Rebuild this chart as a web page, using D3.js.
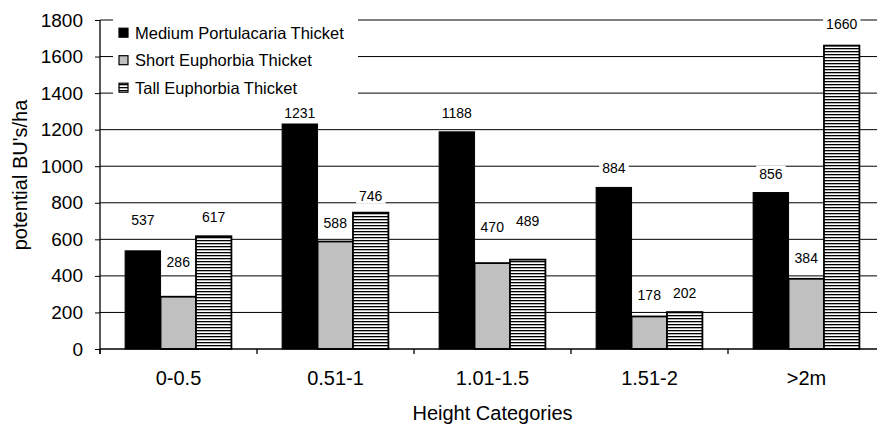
<!DOCTYPE html>
<html>
<head>
<meta charset="utf-8">
<script src="https://cdn.jsdelivr.net/npm/d3@7/dist/d3.min.js"></script>
<style>
  html, body { margin: 0; padding: 0; background: #fff; }
  svg { display: block; font-family: "Liberation Sans", Arial, sans-serif; }
</style>
</head>
<body>
<svg id="chart" width="877" height="425"></svg>
<script>
// Height classes on the x axis
const categories = ["0-0.5", "0.51-1", "1.01-1.5", "1.51-2", ">2m"];
// Thicket types, one bar each per height class
const seriesNames = ["Medium Portulacaria Thicket", "Short Euphorbia Thicket", "Tall Euphorbia Thicket"];
// Potential browser units per hectare
const mediumPortulacaria = [537, 1231, 1188, 884, 856];
const shortEuphorbia     = [286, 588, 470, 178, 384];
const tallEuphorbia      = [617, 746, 489, 202, 1660];
const yTicks = [0, 200, 400, 600, 800, 1000, 1200, 1400, 1600, 1800];
// Extra lift (px) of each value label above its bar, per series then category
const labelLift = [
  [12, -8, 0, 0, 0],
  [16, 0, 17, 2, 2],
  [0, -2, 20, 0, 3]
];

const seriesValues = [mediumPortulacaria, shortEuphorbia, tallEuphorbia];

const svg = d3.select("#chart");
const plotLeft = 100, plotRight = 885, plotTop = 20, plotBottom = 349;

const x0 = d3.scaleBand().domain(categories).range([plotLeft, plotRight]).padding(0);
const x1 = d3.scaleBand().domain(d3.range(seriesNames.length))
  .range([x0.bandwidth() * 0.16, x0.bandwidth() * 0.837]).padding(0);
const y = d3.scaleLinear().domain([0, 1800]).range([plotBottom, plotTop]);

// Hatch pattern for the tall thicket bars
const defs = svg.append("defs");
const pat = defs.append("pattern").attr("id", "hatch")
  .attr("patternUnits", "userSpaceOnUse").attr("width", 8).attr("height", 3);
pat.append("rect").attr("width", 8).attr("height", 3).attr("fill", "#fff");
pat.append("rect").attr("y", 0).attr("width", 8).attr("height", 1.3).attr("fill", "#000");

const fills = ["#000", "#c0c0c0", "url(#hatch)"];

// Gridlines
svg.append("g").selectAll("line").data(yTicks.filter(d => d > 0)).join("line")
  .attr("x1", plotLeft).attr("x2", plotRight)
  .attr("y1", d => y(d)).attr("y2", d => y(d))
  .attr("stroke", "#000").attr("stroke-width", 1);

// Y axis
const yAxis = d3.axisLeft(y).tickValues(yTicks).tickFormat(d3.format("d"))
  .tickSize(5).tickPadding(12);
const gy = svg.append("g").attr("transform", `translate(${plotLeft},0)`).call(yAxis);
gy.select(".domain").remove();
gy.selectAll(".tick line").attr("stroke", "#000");
gy.selectAll(".tick text").attr("font-size", 19).attr("fill", "#000")
  .attr("font-family", "Liberation Sans, Arial, sans-serif");
svg.append("line").attr("x1", plotLeft).attr("x2", plotLeft).attr("y1", plotTop).attr("y2", plotBottom + 5)
  .attr("stroke", "#000").attr("stroke-width", 1.3);

// Bars
const groups = svg.append("g").selectAll("g").data(categories).join("g")
  .attr("transform", d => `translate(${x0(d)},0)`);
groups.selectAll("rect").data((c, ci) => seriesValues.map((vals, si) => ({ si, ci, v: vals[ci] })))
  .join("rect")
  .attr("x", d => x1(d.si))
  .attr("width", x1.bandwidth())
  .attr("y", d => y(d.v))
  .attr("height", d => y(0) - y(d.v))
  .attr("fill", d => fills[d.si])
  .attr("stroke", "#000")
  .attr("stroke-width", d => d.si === 0 ? 1 : 1.8);

// X axis
svg.append("line").attr("x1", plotLeft).attr("x2", plotRight).attr("y1", plotBottom).attr("y2", plotBottom)
  .attr("stroke", "#000").attr("stroke-width", 1.3);
const catEdges = categories.map(c => x0(c)).concat([plotRight]);
svg.append("g").selectAll("line").data(catEdges).join("line")
  .attr("x1", d => d).attr("x2", d => d).attr("y1", plotBottom).attr("y2", plotBottom + 5)
  .attr("stroke", "#000").attr("stroke-width", 1.3);
svg.append("g").selectAll("text").data(categories).join("text")
  .attr("x", d => x0(d) + x0.bandwidth() / 2).attr("y", 385)
  .attr("text-anchor", "middle").attr("font-size", 20).text(d => d);

// Value labels with white backing
const labels = svg.append("g");
seriesValues.forEach((vals, si) => {
  vals.forEach((v, ci) => {
    const cx = x0(categories[ci]) + x1(si) + x1.bandwidth() / 2;
    const by = y(v) - 14 - labelLift[si][ci];
    const g = labels.append("g");
    const bg = g.append("rect").attr("fill", "#fff");
    const t = g.append("text").attr("x", cx).attr("y", by)
      .attr("text-anchor", "middle").attr("font-size", 14).text(v);
    const bb = t.node().getBBox();
    bg.attr("x", bb.x - 3).attr("y", bb.y).attr("width", bb.width + 6).attr("height", bb.height);
  });
});

// Legend
const leg = svg.append("g");
leg.append("rect").attr("x", 113).attr("y", 17).attr("width", 245).attr("height", 86).attr("fill", "#fff");
seriesNames.forEach((name, i) => {
  const cy = 32.7 + i * 27.5;
  leg.append("rect").attr("x", 119).attr("y", cy - 4.5).attr("width", 9).attr("height", 9)
    .attr("fill", fills[i]).attr("stroke", "#000").attr("stroke-width", 1.2);
  leg.append("text").attr("x", 135).attr("y", cy + 6).attr("font-size", 16.5).text(name);
});

// Axis titles
svg.append("text").attr("x", (plotLeft + plotRight) / 2).attr("y", 420)
  .attr("text-anchor", "middle").attr("font-size", 20).text("Height Categories");
svg.append("text").attr("transform", "translate(27,175) rotate(-90)")
  .attr("text-anchor", "middle").attr("font-size", 20).text("potential BU's/ha");
</script>
</body>
</html>
